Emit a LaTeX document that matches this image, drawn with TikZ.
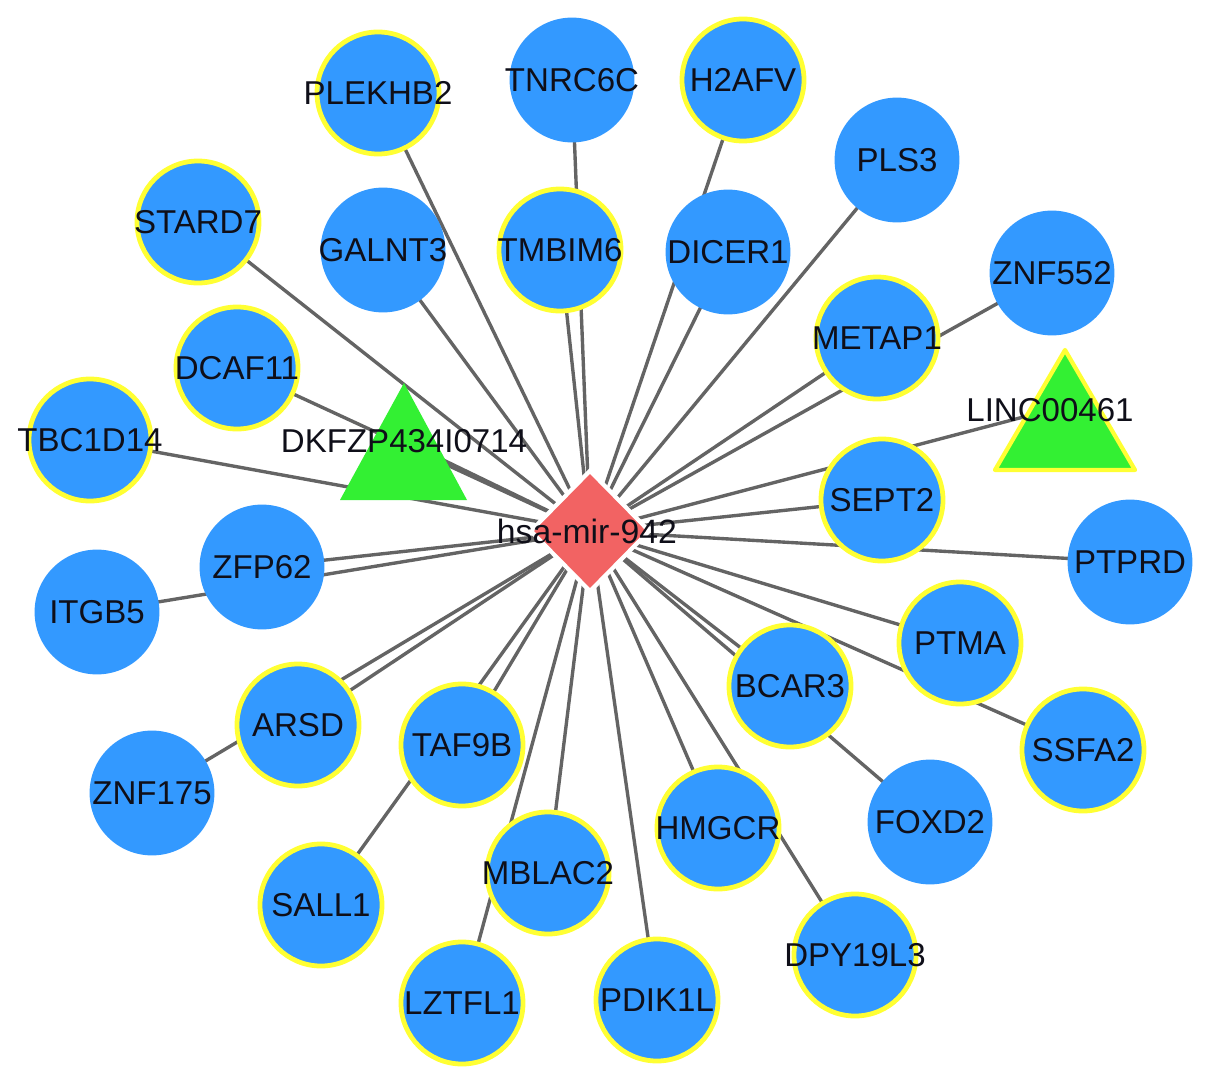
\documentclass[tikz,border=0pt]{standalone}
\usepackage{fontspec}
\setmainfont{Liberation Sans}
\usetikzlibrary{backgrounds,shapes.geometric}
\definecolor{nodeblue}{RGB}{51,153,255}
\definecolor{ringyel}{RGB}{255,255,51}
\definecolor{trigreen}{RGB}{51,240,51}
\definecolor{hubred}{RGB}{242,99,99}
\definecolor{edgegray}{RGB}{100,100,100}
\definecolor{txt}{RGB}{15,15,25}
\begin{document}
\begin{tikzpicture}[x=0.025cm,y=-0.025cm,
  lab/.style={font=\fontsize{23.5}{25}\selectfont, text=txt, inner sep=0pt},
  gene/.style={circle, fill=nodeblue, inner sep=0pt, minimum size=3.12cm},
  ringed/.style={gene, draw=ringyel, line width=3.4pt, minimum size=3.05cm},
  link/.style={draw=edgegray, line width=2.4pt}]
\useasboundingbox (0,0) rectangle (1205,1084);

% hub
\node[diamond, fill=hubred, draw=white, line width=3pt, inner sep=0pt,
      minimum width=3.0cm, minimum height=3.05cm] (hub) at (590,531) {};

% genes
\node[ringed, label={[lab]center:PLEKHB2}] (plekhb2) at (378,93) {};
\node[gene,   label={[lab]center:TNRC6C}]  (tnrc6c)  at (572,80) {};
\node[ringed, label={[lab]center:H2AFV}]   (h2afv)   at (743,80) {};
\node[gene,   label={[lab]center:PLS3}]    (pls3)    at (897,160) {};
\node[ringed, label={[lab]center:STARD7}]  (stard7)  at (198,222) {};
\node[gene,   label={[lab]center:GALNT3}]  (galnt3)  at (383,250) {};
\node[ringed, label={[lab]center:TMBIM6}]  (tmbim6)  at (560,250) {};
\node[gene,   label={[lab]center:DICER1}]  (dicer1)  at (728,252) {};
\node[gene,   label={[lab]center:ZNF552}]  (znf552)  at (1052,273) {};
\node[ringed, label={[lab]center:METAP1}]  (metap1)  at (877,338) {};
\node[ringed, label={[lab]center:DCAF11}]  (dcaf11)  at (237,368) {};
\node[ringed, label={[lab]center:TBC1D14}] (tbc1d14) at (90,440) {};
\node[ringed, label={[lab]center:SEPT2}]   (sept2)   at (882,500) {};
\node[gene,   label={[lab]center:ZFP62}]   (zfp62)   at (262,567) {};
\node[gene,   label={[lab]center:PTPRD}]   (ptprd)   at (1130,562) {};
\node[gene,   label={[lab]center:ITGB5}]   (itgb5)   at (97,612) {};
\node[ringed, label={[lab]center:PTMA}]    (ptma)    at (960,643) {};
\node[ringed, label={[lab]center:BCAR3}]   (bcar3)   at (790,686) {};
\node[ringed, label={[lab]center:SSFA2}]   (ssfa2)   at (1083,750) {};
\node[ringed, label={[lab]center:ARSD}]    (arsd)    at (298,725) {};
\node[ringed, label={[lab]center:TAF9B}]   (taf9b)   at (462,745) {};
\node[gene,   label={[lab]center:ZNF175}]  (znf175)  at (152,793) {};
\node[gene,   label={[lab]center:FOXD2}]   (foxd2)   at (930,822) {};
\node[ringed, label={[lab]center:HMGCR}]   (hmgcr)   at (718,828) {};
\node[ringed, label={[lab]center:MBLAC2}]  (mblac2)  at (548,873) {};
\node[ringed, label={[lab]center:SALL1}]   (sall1)   at (321,905) {};
\node[ringed, label={[lab]center:DPY19L3}] (dpy19l3) at (855,955) {};
\node[ringed, label={[lab]center:LZTFL1}]  (lztfl1)  at (462,1003) {};
\node[ringed, label={[lab]center:PDIK1L}]  (pdik1l)  at (657,1000) {};

% triangles
\fill[trigreen] (404,383) -- (467,500) -- (340,500) -- cycle;
\node[lab] (dkfzp) at (404,441) {DKFZP434I0714};
\filldraw[fill=trigreen, draw=ringyel, line width=3pt, line join=round]
  (1065,350) -- (1135,470) -- (995,470) -- cycle;
\node[lab] (linc) at (1050,410) {LINC00461};

% hub label
\node[lab, font=\fontsize{24}{26}\selectfont] (hublab) at (587,531) {hsa-mir-942};

% edges
\begin{scope}[on background layer]
\fill[white] (0,0) rectangle (1205,1084);
\foreach \n in {plekhb2,tnrc6c,h2afv,pls3,stard7,galnt3,tmbim6,dicer1,znf552,
  metap1,dcaf11,tbc1d14,sept2,zfp62,ptprd,itgb5,ptma,bcar3,ssfa2,arsd,taf9b,
  znf175,foxd2,hmgcr,mblac2,sall1,dpy19l3,lztfl1,pdik1l}
  \draw[link] (\n.center) -- (hub.center);
\draw[link] (dkfzp.center) -- (hub.center);
\draw[link] (linc.center) -- (hub.center);
\end{scope}
\end{tikzpicture}
\end{document}
